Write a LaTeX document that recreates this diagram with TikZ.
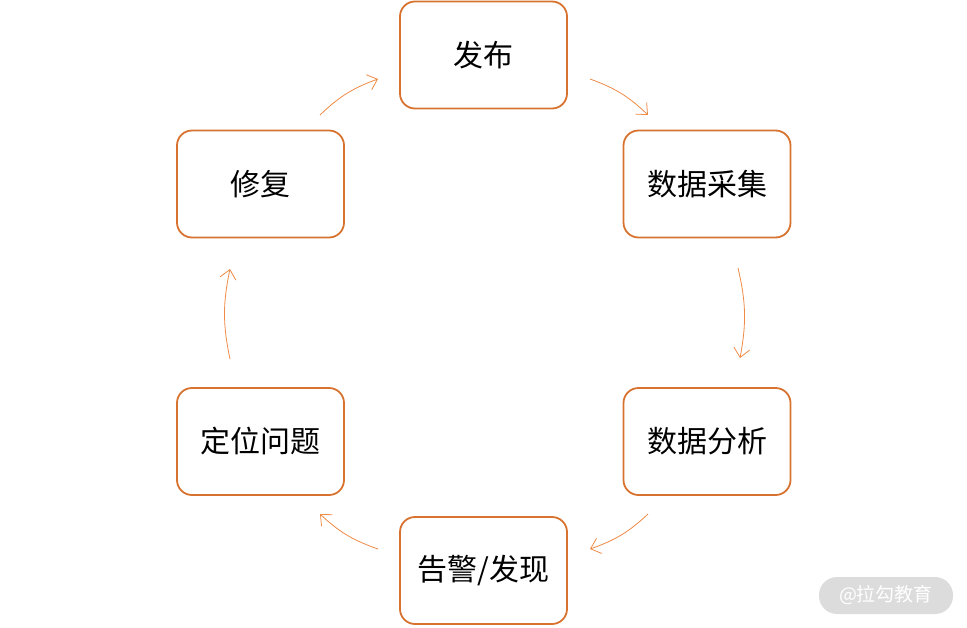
\documentclass[tikz,border=0pt]{standalone}
\usepackage{fontspec}
\newfontfamily\cjk{Noto Sans CJK SC}
\usetikzlibrary{arrows.meta}
\definecolor{boxline}{HTML}{D8732F}
\definecolor{arrowline}{HTML}{EE8A45}
\definecolor{wmgray}{HTML}{DCDCDC}

\begin{document}
\begin{tikzpicture}[x=1pt,y=-1pt,
  box/.style={draw=boxline, line width=1.8pt, rounded corners=15pt,
    minimum width=167pt, minimum height=107pt,
    font=\cjk\fontsize{30}{36}\selectfont},
  flow/.style={draw=arrowline, line width=0.8pt,
    -{Straight Barb[length=9pt,width=16pt,line width=0.8pt]}}]
\useasboundingbox (0,0) rectangle (967,627);
% the six stages, clockwise from the top
\node[box] (fabu)   at (483.5,55)    {发布};
\node[box] (caiji)  at (707,184)     {数据采集};
\node[box] (fenxi)  at (707,441.5)   {数据分析};
\node[box] (gaojing) at (483.5,570.5) {告警/发现};
\node[box] (dingwei) at (260.5,441.5) {定位问题};
\node[box] (xiufu)  at (260.5,184)   {修复};
% arrow ends
\coordinate (a1) at (590,79);  \coordinate (b1) at (648,115);
\coordinate (a2) at (738,268); \coordinate (b2) at (740,358);
\coordinate (a3) at (648,514); \coordinate (b3) at (590,549);
\coordinate (a4) at (378,549); \coordinate (b4) at (320,514);
\coordinate (a5) at (230,359); \coordinate (b5) at (230,269);
\coordinate (a6) at (320,115); \coordinate (b6) at (378,79);
\foreach \i in {1,...,6} { \draw[flow] (a\i) to[bend left=12] (b\i); }
% watermark
\node[fill=wmgray, rounded corners=18pt, minimum width=134pt, minimum height=37pt,
  text=white, font=\cjk\fontsize{19}{23}\selectfont] (wm) at (886,595.5) {@拉勾教育};
\end{tikzpicture}
\end{document}
